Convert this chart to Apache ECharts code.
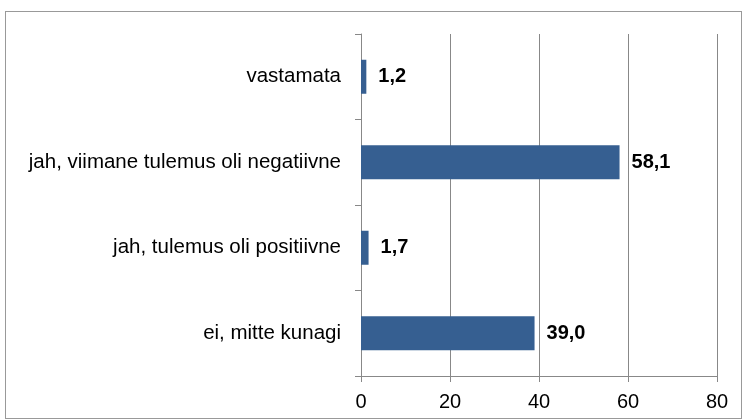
<!DOCTYPE html>
<html>
<head>
<meta charset="utf-8">
<script src="https://cdn.jsdelivr.net/npm/echarts@6/dist/echarts.min.js"></script>
<style>
  html, body { margin: 0; padding: 0; background: #fff; }
  #wrap { position: absolute; left: 5px; top: 11px; width: 737px; height: 408px; border: 1px solid #999; box-sizing: border-box; }
  #chart { position: absolute; left: 0; top: 0; width: 742px; height: 419px; }
</style>
</head>
<body>
<div id="wrap"></div>
<div id="chart"></div>
<script>
var categories = ['vastamata', 'jah, viimane tulemus oli negatiivne', 'jah, tulemus oli positiivne', 'ei, mitte kunagi'];
var values = [1.2, 58.1, 1.7, 39.0];
var xTicks = [0, 20, 40, 60, 80];

var chart = echarts.init(document.getElementById('chart'));

var options = {
    animation: false,
    grid: {
        left: 361,
        right: 25,
        top: 34,
        bottom: 43,
        containLabel: false
    },
    xAxis: {
        type: 'value',
        min: xTicks[0],
        max: xTicks[xTicks.length - 1],
        interval: 20,
        axisLine: { show: true, lineStyle: { color: '#888', width: 1 } },
        axisTick: { show: true, length: 6, lineStyle: { color: '#888' } },
        axisLabel: {
            color: '#000',
            fontFamily: 'Liberation Sans, Arial, sans-serif',
            fontSize: 20,
            margin: 16
        },
        splitLine: { show: true, lineStyle: { color: '#888', width: 1 } }
    },
    yAxis: {
        type: 'category',
        inverse: true,
        data: categories,
        axisLine: { show: true, lineStyle: { color: '#888', width: 1 } },
        axisTick: { show: true, length: 6, lineStyle: { color: '#888' } },
        axisLabel: {
            color: '#000',
            fontFamily: 'Liberation Sans, Arial, sans-serif',
            fontSize: 20.5,
            margin: 20
        }
    },
    series: [
        {
            type: 'bar',
            data: values,
            barWidth: 34,
            itemStyle: { color: '#365f91' },
            label: {
                show: true,
                position: 'right',
                distance: 12,
                color: '#000',
                fontFamily: 'Liberation Sans, Arial, sans-serif',
                fontSize: 20,
                fontWeight: 'bold',
                formatter: function (p) {
                    return p.value.toFixed(1).replace('.', ',');
                }
            }
        }
    ]
};

chart.setOption(options);
</script>
</body>
</html>
